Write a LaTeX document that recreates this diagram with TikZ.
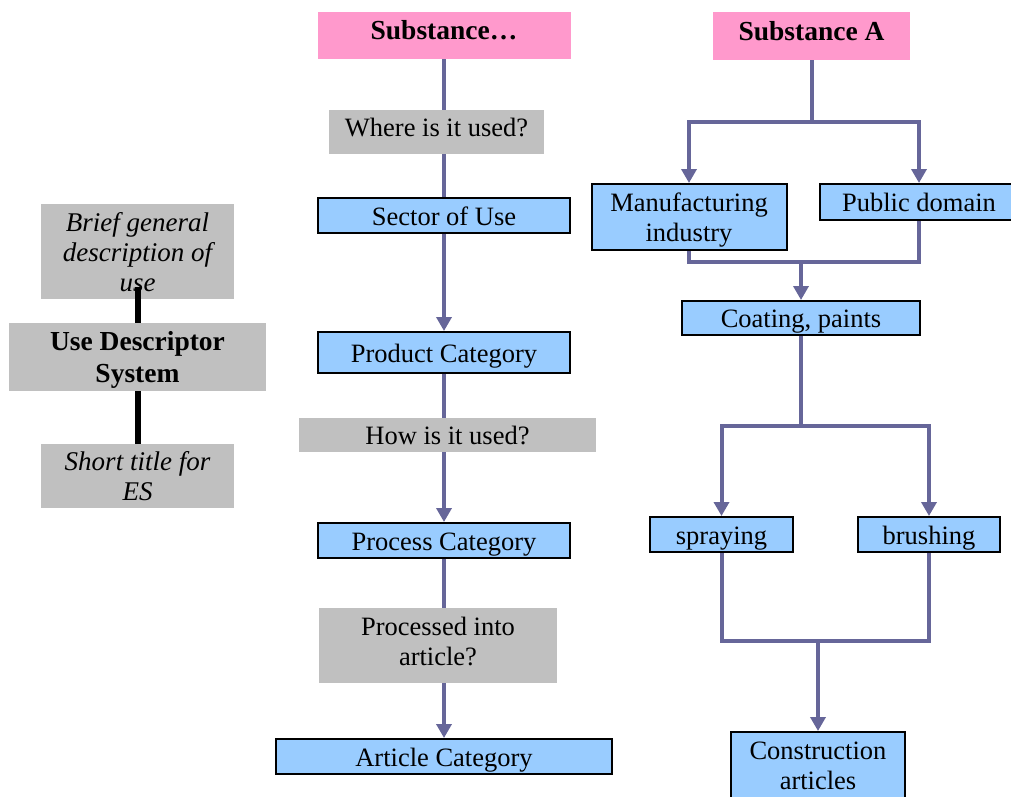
\documentclass[tikz,border=0pt]{standalone}
\usepackage{fontspec}
\setmainfont{Liberation Serif}
\usepackage{tikz}
\usetikzlibrary{%
  positioning
 ,arrows.meta
 ,calc
}
\definecolor{pinkc}{HTML}{FF99CC}
\definecolor{bluec}{HTML}{99CCFF}
\definecolor{grayc}{HTML}{C0C0C0}
\definecolor{linec}{HTML}{666699}
\tikzstyle{usd}=[x=1pt,y=-1pt,font=\fontsize{26.5}{30}\selectfont]
\tikzstyle{box}=[rectangle,inner sep=0pt,align=center,text depth=0pt]
\tikzstyle{single}=[text height=19pt]
\tikzstyle{pinkbox}=[box,fill=pinkc,font=\fontsize{27.5}{30}\selectfont\bfseries,text height=18pt,text depth=10pt]
\tikzstyle{graybox}=[box,fill=grayc]
\tikzstyle{bluebox}=[box,fill=bluec,draw=black,line width=2pt]
\tikzstyle{conn}=[draw=linec,line width=4pt]
\tikzstyle{arr}=[conn,-{Triangle[length=14pt,width=15pt]}]
\tikzstyle{bar}=[draw=black,line width=6pt]

\begin{document}
\begin{tikzpicture}[usd]
      \useasboundingbox (0,0) rectangle (1011,796);
      \clip (0,0) rectangle (1011,796);
      \node[graybox,minimum width=193pt,minimum height=95pt,font=\fontsize{27}{30}\selectfont\itshape]
        (desc) at (137.5,251.5) {Brief general\\description of\\use};
      \node[graybox,minimum width=257pt,minimum height=68pt,font=\fontsize{27.5}{32}\selectfont\bfseries]
        (uds) at (137.5,357) {Use Descriptor\\System};
      \node[graybox,minimum width=193pt,minimum height=64pt,font=\fontsize{27}{30}\selectfont\itshape]
        (short) at (137.5,476) {Short title for\\ES};
      \draw[bar] ([yshift=12pt]desc.south) -- (uds.north);
      \draw[bar] (uds.south) -- (short.north);

      \node[pinkbox,minimum width=253pt,minimum height=47pt] (subst) at (444,35.5) {Substance…};
      \node[graybox,single,text depth=10pt,minimum width=215pt,minimum height=44pt] (where) at (436.5,132) {Where is it used?};
      \node[bluebox,single,minimum width=252pt,minimum height=35pt] (sector) at (444,215.5) {Sector of Use};
      \node[bluebox,single,minimum width=252pt,minimum height=41pt] (product) at (444,352.5) {Product Category};
      \node[graybox,single,minimum width=297pt,minimum height=34pt] (how) at (447.5,435) {How is it used?};
      \node[bluebox,single,minimum width=252pt,minimum height=35pt] (process) at (444,540.5) {Process Category};
      \node[graybox,text depth=8pt,minimum width=238pt,minimum height=75pt] (processed) at (438,645.5) {Processed into\\article?};
      \node[bluebox,single,minimum width=336pt,minimum height=35pt] (article) at (444,756.5) {Article Category};
      \draw[conn] (subst.south) -- (subst.south |- where.north);
      \draw[conn] (subst.south |- where.south) -- (sector.north);
      \draw[arr] (sector.south) -- (product.north);
      \draw[conn] (product.south) -- (product.south |- how.north);
      \draw[arr] (product.south |- how.south) -- (process.north);
      \draw[conn] (process.south) -- (process.south |- processed.north);
      \draw[arr] (process.south |- processed.south) -- (article.north);

      \node[pinkbox,minimum width=197pt,minimum height=48pt] (substA) at (811.5,36) {Substance A};
      \node[bluebox,minimum width=195pt,minimum height=66pt] (manuf) at (689,217) {Manufacturing\\industry};
      \node[bluebox,single,minimum width=198pt,minimum height=36pt] (public) at (919,202) {Public domain};
      \node[bluebox,single,minimum width=238pt,minimum height=34pt] (coating) at (801,318) {Coating, paints};
      \node[bluebox,single,minimum width=143pt,minimum height=35pt] (spray) at (721.5,534.5) {spraying};
      \node[bluebox,single,minimum width=142pt,minimum height=35pt] (brush) at (929,534.5) {brushing};
      \node[bluebox,text depth=8pt,minimum width=174pt,minimum height=76pt] (constr) at (818,770) {Construction\\articles};
      \coordinate (j1) at (811.5,122);
      \coordinate (j2) at (801,262);
      \coordinate (j3) at (801,426);
      \coordinate (j4) at (818,641);
      \draw[conn] (substA.south) -- (j1);
      \draw[arr] (j1) -| (manuf.north);
      \draw[arr] (j1) -| (public.north);
      \draw[conn] (manuf.south) |- (j2);
      \draw[conn] (public.south) |- (j2);
      \draw[arr] (j2) -- (coating.north);
      \draw[conn] (coating.south) -- (j3);
      \draw[arr] (j3) -| (spray.north);
      \draw[arr] (j3) -| (brush.north);
      \draw[conn] (spray.south) |- (j4) -| (brush.south);
      \draw[arr] (j4) -- (constr.north);
    \end{tikzpicture}
\end{document}
